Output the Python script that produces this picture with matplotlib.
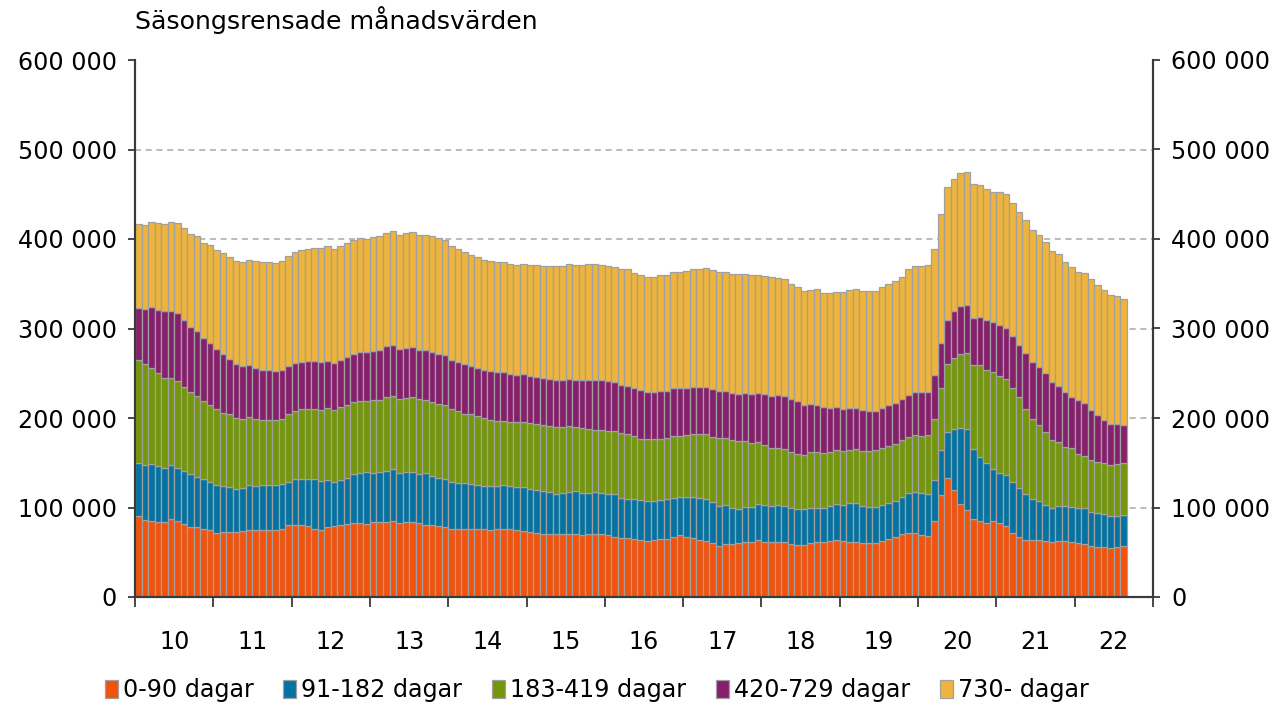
import matplotlib
matplotlib.use("Agg")
import matplotlib.pyplot as plt
from matplotlib.patches import Patch
from matplotlib.ticker import FuncFormatter
import numpy as np

# Monthly values, seasonally adjusted, in thousands. Jan 2010 - Aug 2022
d0_90 = [90, 86, 85, 84, 84, 87, 85, 82, 78, 78, 76, 75, 72, 73, 73, 73, 74, 75, 75, 75, 75, 75, 76, 80, 80, 80,
         79, 76, 75, 78, 79, 80, 82, 83, 83, 82, 84, 84, 84, 85, 83, 84, 84, 83, 81, 80, 79, 78, 76, 76, 76, 76,
         76, 76, 75, 76, 76, 76, 75, 74, 73, 71, 70, 70, 70, 70, 70, 70, 69, 70, 70, 70, 69, 67, 66, 66, 65,
         64, 63, 64, 65, 65, 67, 69, 67, 66, 64, 63, 60, 57, 59, 59, 60, 61, 62, 64, 62, 61, 61, 61, 59, 58,
         58, 60, 61, 62, 63, 64, 63, 62, 62, 60, 60, 60, 63, 65, 67, 70, 72, 71, 69, 68, 85, 114, 133, 120, 104, 97,
         87, 85, 83, 85, 83, 79, 72, 67, 64, 64, 64, 63, 62, 63, 63, 62, 60, 59, 57, 56, 56, 55, 56, 57]
d91_182 = [60, 62, 64, 62, 60, 60, 59, 59, 59, 56, 56, 53, 53, 51, 50, 48, 48, 50, 49, 50, 50, 50, 50, 49, 52, 52,
           53, 56, 55, 53, 50, 51, 51, 54, 56, 58, 55, 56, 57, 58, 56, 56, 56, 54, 57, 55, 54, 54, 52, 51, 51, 50,
           49, 48, 49, 48, 49, 48, 48, 49, 48, 48, 48, 47, 45, 46, 47, 48, 47, 46, 47, 46, 46, 48, 45, 44, 44,
           44, 44, 43, 43, 44, 44, 43, 45, 46, 47, 47, 46, 45, 44, 41, 38, 40, 39, 40, 41, 41, 42, 41, 41, 40,
           40, 39, 38, 38, 39, 40, 40, 43, 43, 42, 41, 41, 40, 40, 40, 42, 44, 46, 47, 47, 46, 50, 51, 68, 85, 91,
           78, 71, 67, 58, 55, 57, 57, 55, 51, 46, 43, 40, 38, 39, 39, 39, 39, 40, 38, 38, 37, 36, 35, 35]
d183_419 = [115, 112, 107, 104, 101, 98, 97, 94, 92, 91, 87, 87, 85, 82, 81, 79, 77, 76, 75, 73, 73, 73, 73, 75, 76, 78,
            78, 78, 79, 80, 80, 81, 82, 81, 80, 79, 81, 80, 82, 82, 82, 82, 83, 84, 82, 83, 83, 83, 82, 81, 78, 78,
            77, 76, 74, 73, 72, 72, 72, 73, 73, 74, 74, 74, 75, 74, 74, 72, 73, 72, 70, 71, 71, 70, 72, 72, 71,
            69, 69, 69, 69, 69, 69, 68, 69, 70, 71, 72, 73, 76, 75, 75, 76, 73, 71, 69, 67, 65, 63, 63, 62, 62,
            61, 63, 63, 61, 60, 60, 60, 59, 60, 61, 62, 63, 64, 64, 64, 63, 63, 64, 64, 66, 68, 70, 76, 79, 83, 85,
            94, 103, 104, 108, 109, 108, 105, 101, 95, 89, 85, 81, 75, 71, 66, 65, 61, 59, 58, 57, 57, 57, 58, 58]
d420_729 = [58, 62, 68, 71, 74, 75, 76, 75, 73, 72, 70, 69, 67, 65, 62, 60, 59, 58, 57, 56, 56, 55, 55, 54, 54, 53,
            54, 54, 54, 53, 53, 53, 53, 54, 55, 55, 55, 56, 57, 57, 56, 56, 56, 55, 56, 56, 55, 55, 55, 55, 55, 54,
            54, 54, 54, 54, 54, 53, 53, 53, 53, 53, 53, 53, 53, 53, 53, 53, 54, 55, 56, 55, 55, 55, 54, 54, 53,
            54, 53, 53, 53, 52, 53, 53, 53, 53, 53, 53, 53, 52, 52, 53, 53, 54, 55, 55, 57, 58, 60, 60, 59, 59,
            56, 54, 53, 51, 49, 48, 47, 47, 46, 46, 45, 44, 44, 45, 46, 46, 47, 48, 49, 48, 49, 50, 50, 52, 53, 53,
            53, 54, 55, 56, 57, 57, 58, 59, 63, 64, 65, 66, 65, 63, 61, 58, 60, 59, 56, 52, 48, 45, 44, 42]
d730 = [94, 94, 95, 97, 98, 99, 101, 102, 104, 106, 107, 109, 111, 113, 114, 115, 116, 117, 119, 120, 120, 120, 121, 123, 123, 125,
        125, 126, 127, 128, 127, 127, 128, 127, 127, 126, 127, 127, 127, 127, 128, 129, 129, 129, 129, 129, 130, 129, 127, 126, 125, 124,
        124, 123, 123, 123, 123, 123, 123, 123, 124, 125, 125, 126, 127, 127, 128, 128, 128, 129, 129, 129, 129, 129, 129, 130, 129,
        129, 129, 129, 130, 130, 130, 130, 130, 132, 132, 133, 133, 133, 133, 133, 134, 133, 133, 132, 132, 132, 130, 130, 129, 127,
        127, 127, 129, 128, 129, 129, 131, 132, 133, 133, 134, 134, 135, 136, 136, 137, 140, 141, 141, 142, 141, 144, 148, 148, 149, 149,
        149, 147, 147, 146, 148, 149, 148, 148, 148, 147, 147, 147, 147, 147, 145, 145, 143, 145, 146, 146, 145, 144, 143, 141]

years = ['10', '11', '12', '13', '14', '15', '16', '17', '18', '19', '20', '21', '22']
labels = ['0-90 dagar', '91-182 dagar', '183-419 dagar', '420-729 dagar', '730- dagar']
colors = ['#F2520A', '#0573A2', '#73960A', '#86206C', '#EEB43C']

plt.rcParams['font.family'] = ['DejaVu Sans']
fs = 17.2
edge = '#a0a0a0'
axcol = '#3a3a3a'

fig = plt.figure(figsize=(12.75, 7.05), dpi=100)
ax = fig.add_axes([135 / 1275, 1 - 597 / 705, (1153 - 135) / 1275, 537 / 705])

series = [d0_90, d91_182, d183_419, d420_729, d730]
x = np.arange(len(d0_90)) + 0.5
bottom = np.zeros(len(x))
for vals, c in zip(series, colors):
    v = np.array(vals) * 1000
    ax.bar(x, v, width=1.0, bottom=bottom, color=c, edgecolor=edge, linewidth=0.9, zorder=2)
    bottom += v

for y in range(100000, 600000, 100000):
    ax.axhline(y, color='#a8a8a8', ls=(0, (4, 3)), lw=1.1, zorder=1)

ax.set_xlim(0, 12 * len(years))
ax.set_ylim(0, 600000)
fmt = FuncFormatter(lambda v, p: f'{int(v):,}'.replace(',', ' '))

ax.set_xticks(np.arange(0, 12 * len(years) + 1, 12))
ax.set_xticklabels([])
ax.set_xticks(np.arange(6, 12 * len(years), 12), minor=True)
ax.set_xticklabels(years, minor=True)
ax.tick_params(axis='x', which='major', length=7.5, width=1.3, color=axcol, direction='out')
ax.tick_params(axis='x', which='minor', length=0, pad=23.5, labelsize=fs)

ax2 = ax.twinx()
ax2.set_ylim(ax.get_ylim())
for a, pad in ((ax, 8), (ax2, 8)):
    a.set_yticks(np.arange(0, 600001, 100000))
    a.yaxis.set_major_formatter(fmt)
    a.tick_params(axis='y', length=5, width=1.3, color=axcol, labelsize=fs, pad=pad)
    a.spines['top'].set_visible(False)
    for s in ('left', 'right', 'bottom'):
        a.spines[s].set_color(axcol)
        a.spines[s].set_linewidth(1.5)

fig.text(135 / 1275, 1 - 20 / 705, 'Säsongsrensade månadsvärden', fontsize=18.2, va='center', ha='left')

handles = [Patch(facecolor=c, edgecolor=edge, linewidth=0.9) for c in colors]
fig.legend(handles, labels, loc='center', bbox_to_anchor=(0.468, 1 - 690 / 705), ncol=5, frameon=False,
           fontsize=fs, handlelength=0.55, handleheight=0.8, handletextpad=0.2, columnspacing=1.25)

fig.savefig('out.png', dpi=100)
